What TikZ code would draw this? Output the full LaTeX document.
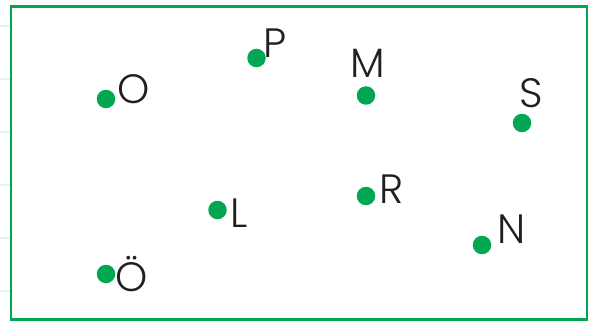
\documentclass[tikz,border=0pt]{standalone}
\usepackage{fontspec}
\setmainfont{Poppins}[UprightFont=* Light]
\definecolor{grn}{HTML}{00A651}
\definecolor{ink}{HTML}{231F20}
\definecolor{tick}{HTML}{E3F1FA}
\begin{document}
\begin{tikzpicture}[x=1pt,y=-1pt,
  pt/.style={circle,fill=grn,inner sep=0pt,minimum size=18.5pt},
  lbl/.style={anchor=base,inner sep=0pt,text=ink,font=\fontsize{41}{41}\selectfont}]
\useasboundingbox (0,0) rectangle (590,321);
\foreach \yy in {26,79,132,185,238,291}
  \draw[tick,line width=2pt] (0,\yy) -- (10,\yy);
\draw[grn,line width=2.3pt] (11,6.5) rectangle (587,319.5);
\node[pt] (dO) at (106,99) {};
\node[pt] (dP) at (256.5,58) {};
\node[pt] (dM) at (366,95.5) {};
\node[pt] (dS) at (522,123) {};
\node[pt] (dL) at (217.5,210) {};
\node[pt] (dR) at (366,196) {};
\node[pt] (dN) at (482,245) {};
\node[pt] (dOe) at (106,274) {};
\node[lbl] (lO) at (133.5,104) {O};
\node[lbl] (lP) at (275,58) {P};
\node[lbl] (lM) at (367.5,78) {M};
\node[lbl] (lS) at (531,107.5) {S};
\node[lbl] (lL) at (239,227) {L};
\node[lbl] (lR) at (392,204) {R};
\node[lbl] (lN) at (511.5,243) {N};
\node[lbl] (lOe) at (132,291.5) {Ö};
\end{tikzpicture}
\end{document}
